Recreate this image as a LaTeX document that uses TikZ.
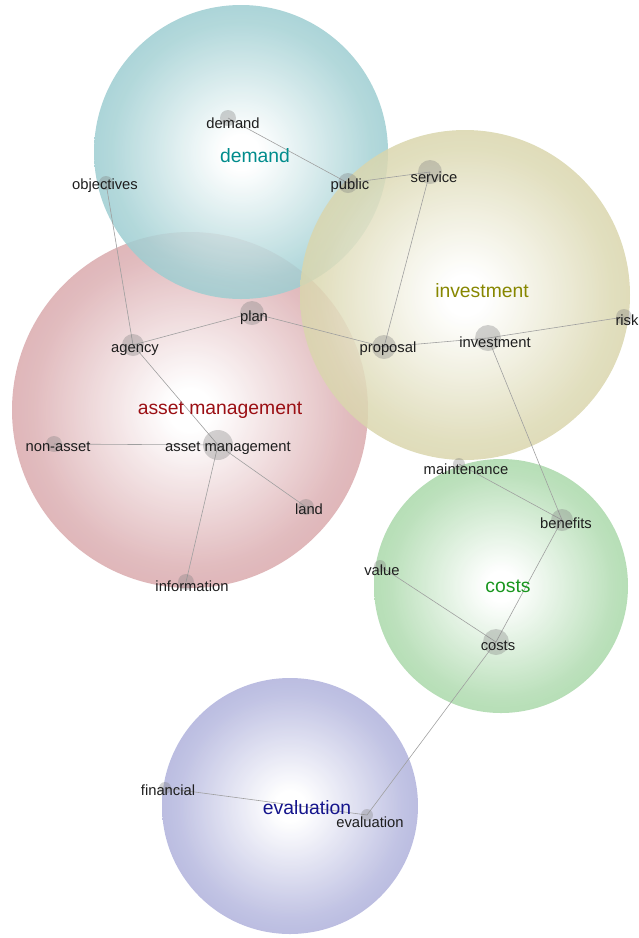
\documentclass[tikz,border=0pt]{standalone}
\usepackage{fontspec}
\setmainfont{Liberation Sans}
\definecolor{cdem}{RGB}{92,172,178}
\definecolor{cinv}{RGB}{192,186,118}
\definecolor{cass}{RGB}{192,112,118}
\definecolor{ccos}{RGB}{112,190,112}
\definecolor{ceva}{RGB}{122,126,196}
\definecolor{tdem}{RGB}{0,140,140}
\definecolor{tinv}{RGB}{135,135,0}
\definecolor{tass}{RGB}{155,15,20}
\definecolor{tcos}{RGB}{25,150,30}
\definecolor{teva}{RGB}{20,20,140}
\definecolor{tsmall}{RGB}{30,30,30}
\pgfdeclareradialshading{shdem}{\pgfpoint{0bp}{0bp}}{color(0bp)=(white); color(3bp)=(white); color(22bp)=(cdem!55!white); color(50bp)=(cdem); color(100bp)=(cdem)}
\pgfdeclareradialshading{shinv}{\pgfpoint{0bp}{0bp}}{color(0bp)=(white); color(3bp)=(white); color(22bp)=(cinv!55!white); color(50bp)=(cinv); color(100bp)=(cinv)}
\pgfdeclareradialshading{shass}{\pgfpoint{0bp}{0bp}}{color(0bp)=(white); color(3bp)=(white); color(22bp)=(cass!55!white); color(50bp)=(cass); color(100bp)=(cass)}
\pgfdeclareradialshading{shcos}{\pgfpoint{0bp}{0bp}}{color(0bp)=(white); color(3bp)=(white); color(22bp)=(ccos!55!white); color(50bp)=(ccos); color(100bp)=(ccos)}
\pgfdeclareradialshading{sheva}{\pgfpoint{0bp}{0bp}}{color(0bp)=(white); color(3bp)=(white); color(22bp)=(ceva!55!white); color(50bp)=(ceva); color(100bp)=(ceva)}
\tikzset{
  cluster/.style={shading=#1, fill opacity=0.85},
  edge/.style={draw=gray!75, line width=0.5pt},
  dotnode/.style={circle, fill=gray, fill opacity=0.35, inner sep=0pt, minimum size=#1},
  lbl/.style={text=tsmall, font=\fontsize{12.6pt}{14pt}\selectfont, inner sep=0pt},
  big/.style={text=#1, font=\fontsize{16.5pt}{18pt}\selectfont, inner sep=0pt}
}
\begin{document}
\begin{tikzpicture}[x=0.03cm,y=-0.03cm]
\useasboundingbox (0,0) rectangle (639,938);
% clusters
\path[cluster=shass] (190,410) circle[radius=178];
\path[cluster=shdem] (241,152) circle[radius=147];
\path[cluster=shinv] (465,295) circle[radius=165];
\path[cluster=shcos] (501,586) circle[radius=127];
\path[cluster=sheva] (290,806) circle[radius=128];
% term positions
\coordinate (demand) at (228,118);
\coordinate (objectives) at (106,183);
\coordinate (public) at (348,183);
\coordinate (service) at (430,172);
\coordinate (plan) at (252,313);
\coordinate (agency) at (133,345);
\coordinate (proposal) at (384,347);
\coordinate (investment) at (488,338);
\coordinate (risk) at (624,317);
\coordinate (nonasset) at (54,444);
\coordinate (assetman) at (218,445);
\coordinate (land) at (306,507);
\coordinate (information) at (186,582);
\coordinate (maintenance) at (459,464);
\coordinate (benefits) at (562,520);
\coordinate (value) at (380,566);
\coordinate (costs) at (496,642);
\coordinate (financial) at (165,788);
\coordinate (evaluation) at (367,815);
% edges
\draw[edge] (demand) -- (public);
\draw[edge] (public) -- (service);
\draw[edge] (service) -- (proposal);
\draw[edge] (objectives) -- (agency);
\draw[edge] (agency) -- (plan);
\draw[edge] (plan) -- (proposal);
\draw[edge] (proposal) -- (investment);
\draw[edge] (investment) -- (risk);
\draw[edge] (investment) -- (benefits);
\draw[edge] (agency) -- (assetman);
\draw[edge] (nonasset) -- (assetman);
\draw[edge] (assetman) -- (land);
\draw[edge] (assetman) -- (information);
\draw[edge] (maintenance) -- (benefits);
\draw[edge] (benefits) -- (costs);
\draw[edge] (value) -- (costs);
\draw[edge] (costs) -- (evaluation);
\draw[edge] (financial) -- (evaluation);
% dots
\node[dotnode=0.48cm] (d-demand) at (demand) {};
\node[dotnode=0.42cm] (d-objectives) at (objectives) {};
\node[dotnode=0.6cm] (d-public) at (public) {};
\node[dotnode=0.72cm] (d-service) at (service) {};
\node[dotnode=0.72cm] (d-plan) at (plan) {};
\node[dotnode=0.66cm] (d-agency) at (agency) {};
\node[dotnode=0.72cm] (d-proposal) at (proposal) {};
\node[dotnode=0.78cm] (d-investment) at (investment) {};
\node[dotnode=0.48cm] (d-risk) at (risk) {};
\node[dotnode=0.48cm] (d-nonasset) at (nonasset) {};
\node[dotnode=0.9cm] (d-assetman) at (assetman) {};
\node[dotnode=0.48cm] (d-land) at (land) {};
\node[dotnode=0.48cm] (d-information) at (information) {};
\node[dotnode=0.36cm] (d-maintenance) at (maintenance) {};
\node[dotnode=0.66cm] (d-benefits) at (benefits) {};
\node[dotnode=0.36cm] (d-value) at (value) {};
\node[dotnode=0.78cm] (d-costs) at (costs) {};
\node[dotnode=0.36cm] (d-financial) at (financial) {};
\node[dotnode=0.36cm] (d-evaluation) at (evaluation) {};
% small labels
\node[lbl] (l-demand) at (233,123) {demand};
\node[lbl] (l-objectives) at (105,186) {objectives};
\node[lbl] (l-public) at (350,186) {public};
\node[lbl] (l-service) at (434,177) {service};
\node[lbl] (l-plan) at (254,318) {plan};
\node[lbl] (l-agency) at (135,350) {agency};
\node[lbl] (l-proposal) at (388,349) {proposal};
\node[lbl] (l-investment) at (495,342) {investment};
\node[lbl] (l-risk) at (627,320) {risk};
\node[lbl] (l-nonasset) at (58,447) {non-asset};
\node[lbl] (l-assetman) at (228,448) {asset management};
\node[lbl] (l-land) at (309,509) {land};
\node[lbl] (l-information) at (192,586) {information};
\node[lbl] (l-maintenance) at (466,469) {maintenance};
\node[lbl] (l-benefits) at (566,523) {benefits};
\node[lbl] (l-value) at (382,570) {value};
\node[lbl] (l-costs) at (498,646) {costs};
\node[lbl] (l-financial) at (168,790) {financial};
\node[lbl] (l-evaluation) at (370,822) {evaluation};
% cluster labels
\node[big=tdem] (c-demand) at (255,156) {demand};
\node[big=tinv] (c-investment) at (482,291) {investment};
\node[big=tass] (c-assetman) at (220,410) {asset management};
\node[big=tcos] (c-costs) at (508,586) {costs};
\node[big=teva] (c-evaluation) at (307,808) {evaluation};
\end{tikzpicture}
\end{document}
